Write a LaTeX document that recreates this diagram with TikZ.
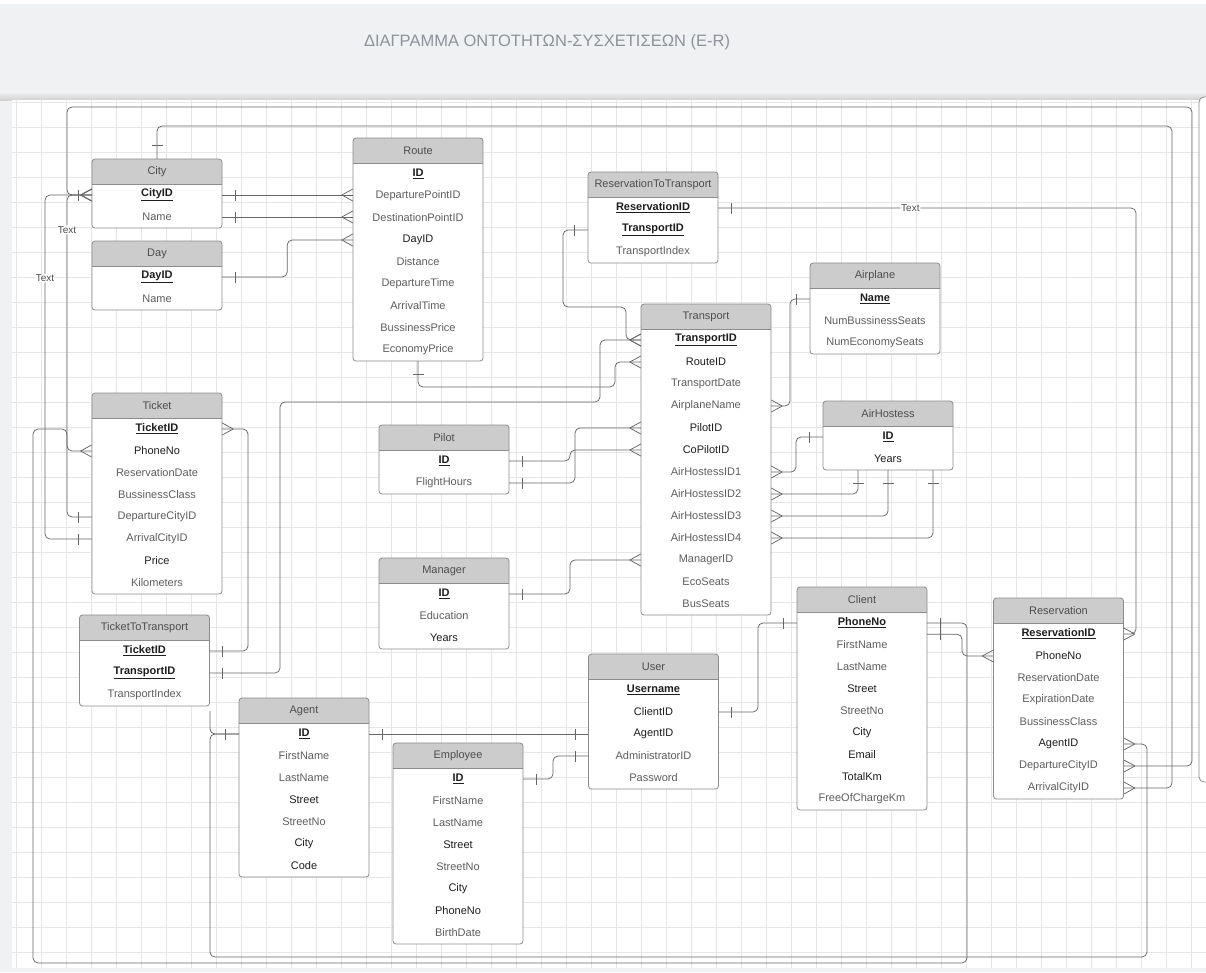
\documentclass[tikz,border=0pt]{standalone}
\usepackage{fontspec}
\setmainfont{Liberation Sans}
\usepackage{tikz}
\usetikzlibrary{calc}
\usetikzlibrary{decorations.markings}
\definecolor{bandgrey}{HTML}{F0F1F3}
\definecolor{gridgrey}{HTML}{E6E6E6}
\definecolor{titlegrey}{HTML}{8E939A}
\definecolor{headfill}{HTML}{CCCCCC}
\definecolor{headtext}{HTML}{4D4D4D}
\definecolor{boxgrey}{HTML}{8C8C8C}
\definecolor{fieldgrey}{HTML}{5E5E5E}
\definecolor{darkfield}{HTML}{1E1E1E}
\definecolor{linegrey}{HTML}{666666}
\tikzset{
	gridline/.style={draw=gridgrey,line width=0.5pt},
	entline/.style={draw=boxgrey,line width=0.8pt},
	headstyle/.style={rectangle,minimum width=130pt,minimum height=25pt,inner sep=0pt,text=headtext,font=\fontsize{11}{13}\selectfont},
	fieldstyle/.style={rectangle,minimum width=130pt,minimum height=22pt,inner sep=0pt,text=fieldgrey,font=\fontsize{11}{13}\selectfont},
	titlestyle/.style={text=titlegrey,font=\fontsize{16.5}{19}\selectfont},
	lbl/.style={fill=white,inner sep=1pt,text=headtext,font=\fontsize{10}{12}\selectfont},
	marker/.style={draw=linegrey,line width=0.75pt},
	conn/.style={draw=linegrey,line width=0.75pt,rounded corners=5pt},
	onestart/.style={postaction={decorate,decoration={markings,mark=at position 13pt with {\draw[marker] (0pt,-5.5pt)--(0pt,5.5pt);}}}},
	oneend/.style={postaction={decorate,decoration={markings,mark=at position -13pt with {\draw[marker] (0pt,-5.5pt)--(0pt,5.5pt);}}}},
	manystart/.style={postaction={decorate,decoration={markings,mark=at position 0.0001 with {\draw[marker] (11pt,0pt)--(0pt,6pt) (11pt,0pt)--(0pt,-6pt);}}}},
	manyend/.style={postaction={decorate,decoration={markings,mark=at position 0.9999 with {\draw[marker] (-11pt,0pt)--(0pt,6pt) (-11pt,0pt)--(0pt,-6pt);}}}}
}
\newcommand{\keyf}[1]{\textcolor{darkfield}{\textbf{\underline{#1}}}}
\newcommand{\darkf}[1]{\textcolor{darkfield}{#1}}
\newcommand{\erbox}[6]{%
	\fill[white,rounded corners=3pt] (#2-65,#3) rectangle (#2+65,#3+25+22*#4);
	\begin{scope}
		\clip (#2-65,#3) rectangle (#2+65,#3+25);
		\fill[headfill,rounded corners=3pt] (#2-65,#3) rectangle (#2+65,#3+40);
	\end{scope}
	\draw[entline] (#2-65,#3+25) -- (#2+65,#3+25);
	\draw[entline,rounded corners=3pt] (#2-65,#3) rectangle (#2+65,#3+25+22*#4);
	\node[headstyle] (#1) at (#2,#3+12.5) {#5};
	\coordinate (#1b) at (#2,#3+25+22*#4);
	\foreach \f [count=\i] in {#6} \node[fieldstyle] (#1\i) at (#2,#3+14+22*\i) {\f};
}

\begin{document}
\begin{tikzpicture}[x=1pt,y=-1pt]
		\useasboundingbox (0,0) rectangle (1206,972);
		\fill[bandgrey] (0,0) rectangle (1206,972);
		\fill[white] (0,0) rectangle (1206,4);
		\shade[top color=bandgrey,bottom color=black!18] (0,92) rectangle (1206,100);
		\fill[white] (12,100) rectangle (1206,968);
		\foreach \gx in {16,41,...,1191} \draw[gridline] (\gx,100) -- (\gx,968);
		\foreach \gy in {102,127,...,952} \draw[gridline] (12,\gy) -- (1206,\gy);
		\draw[entline,fill=white,rounded corners=5pt] (1199,97) rectangle (1230,782);
		\node[titlestyle] (title) at (547,42) {ΔΙΑΓΡΑΜΜΑ ΟΝΤΟΤΗΤΩΝ-ΣΥΣΧΕΤΙΣΕΩΝ (E-R)};
		\erbox{city}{157}{159}{2}{City}{\keyf{CityID},Name}
		\erbox{day}{157}{241}{2}{Day}{\keyf{DayID},Name}
		\erbox{route}{418}{138}{9}{Route}{\keyf{ID},DeparturePointID,DestinationPointID,\darkf{DayID},Distance,DepartureTime,ArrivalTime,BussinessPrice,EconomyPrice}
		\erbox{rtt}{653}{172}{3}{ReservationToTransport}{\keyf{ReservationID},\keyf{TransportID},TransportIndex}
		\erbox{airplane}{875}{263}{3}{Airplane}{\keyf{Name},NumBussinessSeats,NumEconomySeats}
		\erbox{transport}{706}{304}{13}{Transport}{\keyf{TransportID},\darkf{RouteID},TransportDate,AirplaneName,\darkf{PilotID},\darkf{CoPilotID},AirHostessID1,AirHostessID2,AirHostessID3,AirHostessID4,ManagerID,EcoSeats,BusSeats}
		\erbox{pilot}{444}{425}{2}{Pilot}{\keyf{ID},FlightHours}
		\erbox{manager}{444}{558}{3}{Manager}{\keyf{ID},Education,\darkf{Years}}
		\erbox{ahost}{888}{401}{2}{AirHostess}{\keyf{ID},\darkf{Years}}
		\erbox{ticket}{157}{393}{8}{Ticket}{\keyf{TicketID},\darkf{PhoneNo},ReservationDate,BussinessClass,DepartureCityID,ArrivalCityID,\darkf{Price},Kilometers}
		\erbox{ttt}{144.5}{615}{3}{TicketToTransport}{\keyf{TicketID},\keyf{TransportID},TransportIndex}
		\erbox{agent}{304}{698}{7}{Agent}{\keyf{ID},FirstName,LastName,\darkf{Street},StreetNo,\darkf{City},\darkf{Code}}
		\erbox{employee}{458}{743}{8}{Employee}{\keyf{ID},FirstName,LastName,\darkf{Street},StreetNo,\darkf{City},\darkf{PhoneNo},BirthDate}
		\erbox{user}{653.5}{654}{5}{User}{\keyf{Username},\darkf{ClientID},\darkf{AgentID},AdministratorID,Password}
		\erbox{client}{862}{587}{9}{Client}{\keyf{PhoneNo},FirstName,LastName,\darkf{Street},StreetNo,\darkf{City},\darkf{Email},\darkf{TotalKm},FreeOfChargeKm}
		\erbox{resv}{1058.5}{598}{8}{Reservation}{\keyf{ReservationID},\darkf{PhoneNo},ReservationDate,ExpirationDate,BussinessClass,\darkf{AgentID},DepartureCityID,ArrivalCityID}
		\draw[conn,onestart,manyend] (city1.east) -- (city1.east -| route2.west);
		\draw[conn,onestart,manyend] (city2.east) -- (city2.east -| route3.west);
		\draw[conn,onestart,manyend] (day1.east) -- ++(65,0) |- (route4.west);
		\draw[conn,onestart,manyend] (routeb) |- (615,387) |- (transport2.west);
		\draw[conn,onestart,manyend] (ttt2.east) -| (280,402) -| (600,340) -- (transport1.west);
		\draw[conn,onestart,manyend] (ttt1.east) -| (248,429) -- (ticket1.east);
		\draw[conn,onestart,manyend] (rtt2.west) -| (563,307) -| (626,340) -- (transport1.west);
		\draw[conn,onestart,manyend] (pilot1.east) -| (570,450) -- (transport6.west);
		\draw[conn,onestart,manyend] (pilot2.east) -| (575,428) -- (transport5.west);
		\draw[conn,onestart,manyend] (manager1.east) -| (570,560) -- (transport11.west);
		\draw[conn,manystart,oneend] (transport4.east) -| (790,299) -- (airplane1.west);
		\draw[conn,manystart,oneend] (transport7.east) -| (796,437) -- (ahost1.west);
		\draw[conn,manystart,oneend] (transport8.east) -| ($(ahostb)+(-30,0)$);
		\draw[conn,manystart,oneend] (transport9.east) -| (ahostb);
		\draw[conn,manystart,oneend] (transport10.east) -| ($(ahostb)+(45,0)$);
		\draw[conn,onestart,manyend] (rtt1.east) -| node[lbl,pos=0.23] (txtc) {Text} (1136,634) -- (resv1.east);
		\draw[conn,manystart,manyend,oneend] (resv7.east) -| (1192,107) -| (67,195) -- (city1.west);
		\draw[conn,manystart,oneend] (resv8.east) -| (1172,126) -| (city.north);
		\draw[conn,manystart,oneend] (resv6.east) -| (1147,957) -| (210,734) -- (agent1.west);
		\draw[conn] ($(tttb)+(65.5,5)$) |- (agent1.west);
		\draw[conn,onestart,manyend] (client1.east) -| (967,963) -| (33,429) -| (67,451) -- (ticket2.west);
		\draw[conn,onestart,manyend] (client1.south east) -| (962,656) -- (resv2.west);
		\draw[conn,onestart,oneend] (user2.east) -| (758,623) -- (client1.west);
		\draw[conn,onestart,oneend] (agent1.east) -- (user3.west);
		\draw[conn,onestart,oneend] (employee1.east) -| (553,756) -- (user4.west);
		\draw[conn,onestart,manyend] (ticket5.west) -| node[lbl,pos=0.946] (txta) {Text} (67,195) -- (city1.west);
		\draw[conn,onestart,manyend] (ticket6.west) -| node[lbl,pos=0.879] (txtb) {Text} (45,195) -- (city1.west);
		\end{tikzpicture}
\end{document}
